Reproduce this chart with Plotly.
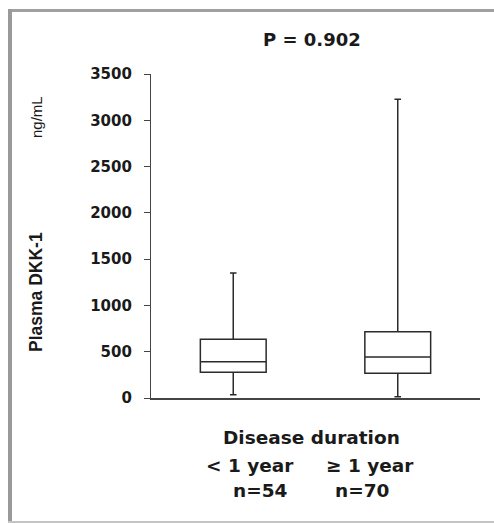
import plotly.graph_objects as go

# ---- data ----
groups = ["< 1 year", "≥ 1 year"]
n_labels = ["n=54", "n=70"]
x_pos = [0, 1]
lower_whisker = [36, 14]
q1_vals = [278, 267]
median_vals = [392, 443]
q3_vals = [634, 716]
upper_whisker = [1350, 3227]
y_ticks = [0, 500, 1000, 1500, 2000, 2500, 3000, 3500]
p_text = "P = 0.902"

W, H = 494, 523
L, R, T, B = 151, 14, 74, 125
pw, ph = W - L - R, H - T - B

def px(x):
    return (x - L) / pw

def py(y):
    return (H - B - y) / ph

fig = go.Figure()
fig.add_trace(go.Box(
    x=x_pos,
    q1=q1_vals, median=median_vals, q3=q3_vals,
    lowerfence=lower_whisker, upperfence=upper_whisker,
    width=0.4, whiskerwidth=0.1,
    fillcolor="white",
    line=dict(color="#2b2b2b", width=1.5),
    boxpoints=False, showlegend=False, hoverinfo="skip",
))

fig.update_layout(
    width=W, height=H,
    margin=dict(l=L, r=R, t=T, b=B, pad=0),
    paper_bgcolor="white", plot_bgcolor="white",
    xaxis=dict(range=[-0.5, 1.5], showticklabels=False, ticks="",
               showline=True, linecolor="#444444", linewidth=1.5,
               showgrid=False, zeroline=False, fixedrange=True),
    yaxis=dict(range=[0, 3500], tickvals=y_ticks,
               tickfont=dict(family="DejaVu Sans", size=15, color="#1a1a1a", weight="bold"),
               ticks="outside", ticklen=6, tickcolor="#444444", tickwidth=1,
               ticklabelstandoff=9,
               showline=True, linecolor="#444444", linewidth=1.2,
               showgrid=False, zeroline=False),
)

annos = [
    dict(text="<b>" + p_text + "</b>", x=px(312), y=py(40), size=18, fam="DejaVu Sans", angle=0),
    dict(text="<b>Disease duration</b>", x=px(311), y=py(437), size=18.5, fam="DejaVu Sans", angle=0),
    dict(text="<b>" + groups[0] + "</b>", x=px(250), y=py(465), size=18.5, fam="DejaVu Sans", angle=0),
    dict(text="<b>" + groups[1] + "</b>", x=px(370), y=py(465), size=18.5, fam="DejaVu Sans", angle=0),
    dict(text="<b>" + n_labels[0] + "</b>", x=px(260), y=py(490), size=18.5, fam="DejaVu Sans", angle=0),
    dict(text="<b>" + n_labels[1] + "</b>", x=px(362), y=py(490), size=18.5, fam="DejaVu Sans", angle=0),
    dict(text="<b>Plasma DKK-1</b>", x=px(36), y=py(292), size=17.5, fam="Liberation Sans", angle=-90),
    dict(text="ng/mL", x=px(36), y=py(117), size=15, fam="Liberation Sans", angle=-90),
]
for a in annos:
    fig.add_annotation(text=a["text"], x=a["x"], y=a["y"], xref="paper", yref="paper",
                       showarrow=False, textangle=a["angle"], xanchor="center", yanchor="middle",
                       font=dict(family=a["fam"], size=a["size"], color="#1a1a1a"))

# frame
fig.add_shape(type="line", xref="paper", yref="paper", x0=px(8), x1=px(494), y0=py(10.5), y1=py(10.5),
              line=dict(color="#a0a0a0", width=3))
fig.add_shape(type="line", xref="paper", yref="paper", x0=px(10), x1=px(10), y0=py(9), y1=py(523),
              line=dict(color="#9a9a9a", width=4))
fig.add_shape(type="line", xref="paper", yref="paper", x0=px(8), x1=px(494), y0=py(522), y1=py(522),
              line=dict(color="#c4c4c4", width=2))

fig.write_html("out.html")
